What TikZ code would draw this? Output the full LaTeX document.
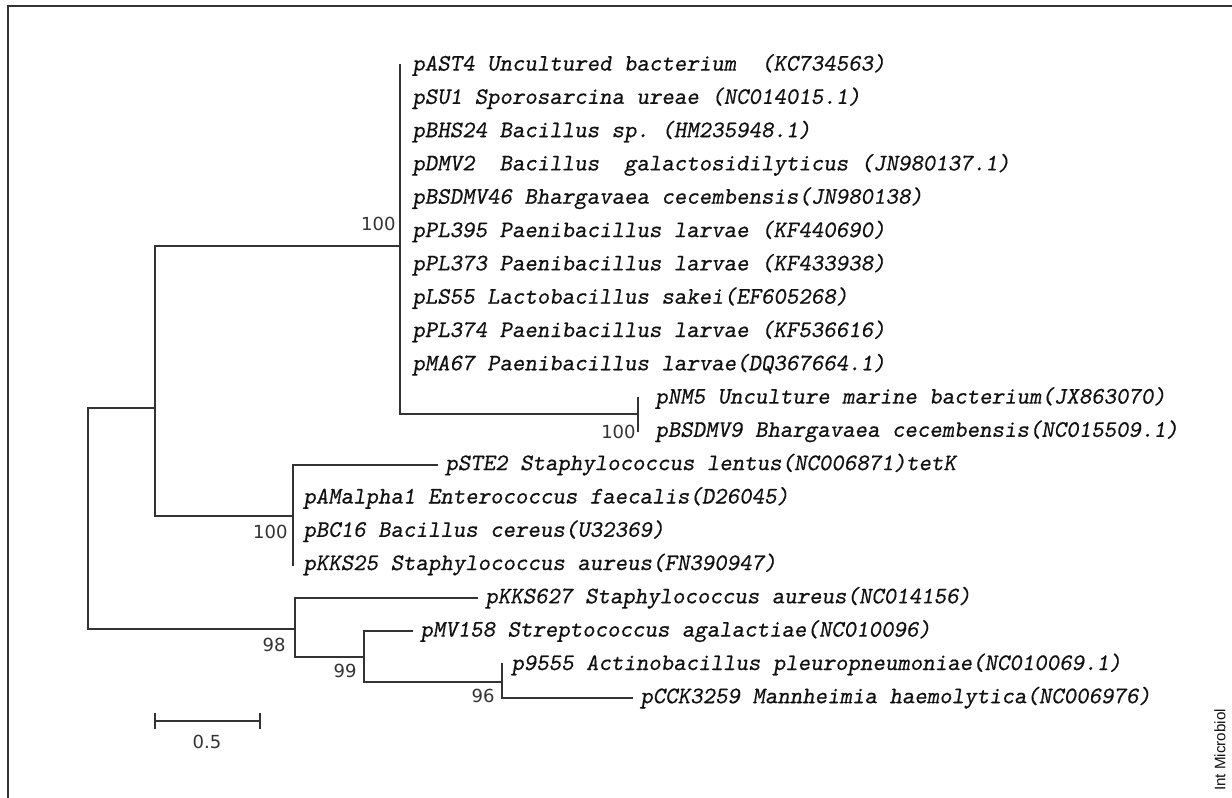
\documentclass[tikz,border=0pt]{standalone}
\usepackage{fontspec}
\newfontfamily\leaffont{lmmonoslant10-regular}[Extension=.otf,FakeBold=0.5]
\newfontfamily\bootfont{DejaVu Sans}
\newfontfamily\credfont{Liberation Sans}
\frenchspacing
\definecolor{branchgray}{HTML}{333333}
\definecolor{leafink}{HTML}{111111}
\tikzset{
  branch/.style={draw=branchgray,line width=1pt,line cap=rect},
  leaf/.style={anchor=west,inner xsep=4pt,inner ysep=0pt,text=leafink,
    font=\leaffont\fontsize{11.86}{13}\selectfont},
  boot/.style={anchor=east,inner sep=0pt,text=branchgray,
    font=\bootfont\fontsize{9}{10}\selectfont},
}
\begin{document}
\begin{tikzpicture}[x=0.5pt,y=-0.5pt]
  \def\rowh{33.3} % distancia entre filas
  \useasboundingbox (0,0) rectangle (1232,798);
  % marco
  \draw[branchgray,line width=1pt] (8,798) -- (8,6) -- (1232,6);
  % hojas
  \node[leaf] (pAST4)    at (404,65)          {pAST4 Uncultured bacterium\ \ (KC734563)};
  \node[leaf] (pSU1)     at (404,65+1*\rowh)  {pSU1 Sporosarcina ureae (NC014015.1)};
  \node[leaf] (pBHS24)   at (404,65+2*\rowh)  {pBHS24 Bacillus sp. (HM235948.1)};
  \node[leaf] (pDMV2)    at (404,65+3*\rowh)  {pDMV2\ \ Bacillus\ \ galactosidilyticus (JN980137.1)};
  \node[leaf] (pBSDMV46) at (404,65+4*\rowh)  {pBSDMV46 Bhargavaea cecembensis(JN980138)};
  \node[leaf] (pPL395)   at (404,65+5*\rowh)  {pPL395 Paenibacillus larvae (KF440690)};
  \node[leaf] (pPL373)   at (404,65+6*\rowh)  {pPL373 Paenibacillus larvae (KF433938)};
  \node[leaf] (pLS55)    at (404,65+7*\rowh)  {pLS55 Lactobacillus sakei(EF605268)};
  \node[leaf] (pPL374)   at (404,65+8*\rowh)  {pPL374 Paenibacillus larvae (KF536616)};
  \node[leaf] (pMA67)    at (404,65+9*\rowh)  {pMA67 Paenibacillus larvae(DQ367664.1)};
  \node[leaf] (pNM5)     at (647,65+10*\rowh) {pNM5 Unculture marine bacterium(JX863070)};
  \node[leaf] (pBSDMV9)  at (647,65+11*\rowh) {pBSDMV9 Bhargavaea cecembensis(NC015509.1)};
  \node[leaf] (pSTE2)    at (437,65+12*\rowh) {pSTE2 Staphylococcus lentus(NC006871)tetK};
  \node[leaf] (pAMalpha1) at (295,65+13*\rowh) {pAMalpha1 Enterococcus faecalis(D26045)};
  \node[leaf] (pBC16)    at (295,65+14*\rowh) {pBC16 Bacillus cereus(U32369)};
  \node[leaf] (pKKS25)   at (295,65+15*\rowh) {pKKS25 Staphylococcus aureus(FN390947)};
  \node[leaf] (pKKS627)  at (477,65+16*\rowh) {pKKS627 Staphylococcus aureus(NC014156)};
  \node[leaf] (pMV158)   at (412,65+17*\rowh) {pMV158 Streptococcus agalactiae(NC010096)};
  \node[leaf] (p9555)    at (503,65+18*\rowh) {p9555 Actinobacillus pleuropneumoniae(NC010069.1)};
  \node[leaf] (pCCK3259) at (632,65+19*\rowh) {pCCK3259 Mannheimia haemolytica(NC006976)};
  % nodos internos
  \coordinate (root) at (88,519);
  \coordinate (nA) at (155,408);
  \coordinate (nB) at (400,246);
  \coordinate (nC) at (638,414);
  \coordinate (nD) at (293,516);
  \coordinate (nE) at (295,629);
  \coordinate (nF) at (364,657);
  \coordinate (nG) at (502,682);
  % ramas
  \draw[branch] (nA) -- (root |- nA) -- (root |- nE) -- (nE);
  \draw[branch] (nB) -- (nA |- nB) -- (nA |- nD) -- (nD);
  \draw[branch] (nB |- pAST4) -- (nB |- nC) -- (nC);
  \draw[branch] (nC |- pNM5) -- (nC |- pBSDMV9);
  \draw[branch] (pSTE2.west) -- (nD |- pSTE2) -- (nD |- pKKS25);
  \draw[branch] (pKKS627.west) -- (nE |- pKKS627) -- (nE |- nF) -- (nF);
  \draw[branch] (pMV158.west) -- (nF |- pMV158) -- (nF |- nG) -- (nG);
  \draw[branch] (nG |- p9555) -- (nG |- pCCK3259) -- (pCCK3259.west);
  % bootstrap
  \node[boot] (bB) at (396,224) {100};
  \node[boot] (bC) at (636,432) {100};
  \node[boot] (bD) at (288,532) {100};
  \node[boot] (bE) at (286,645) {98};
  \node[boot] (bF) at (357,671) {99};
  \node[boot] (bG) at (495,696) {96};
  % escala
  \draw[branch] (155,714) -- (155,728) (155,721) -- (260,721) (260,714) -- (260,728);
  \node[boot,anchor=center] (scale) at (207,742) {0.5};
  \node[rotate=90,inner sep=0pt,text=leafink,font=\credfont\fontsize{7.6}{8}\selectfont] (cred) at (1220,750) {Int Microbiol};
\end{tikzpicture}
\end{document}
